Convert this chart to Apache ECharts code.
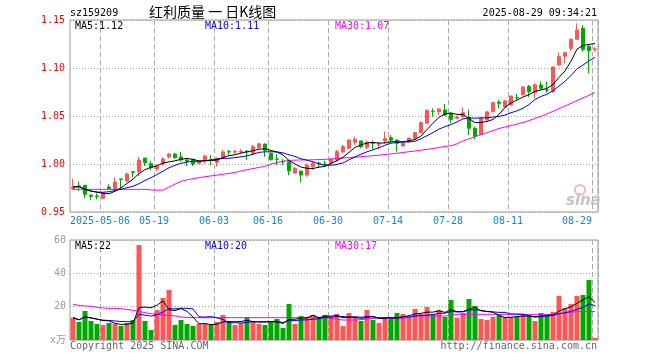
<!DOCTYPE html>
<html><head><meta charset="utf-8">
<script src="https://cdn.jsdelivr.net/npm/echarts@6/dist/echarts.min.js"></script>
<style>html,body{margin:0;padding:0;background:#fff}#c{width:660px;height:360px}</style>
</head><body><div id="c"></div>
<script>
const dates = [
'2025-04-24','2025-04-25','2025-04-28','2025-04-29','2025-04-30',
'2025-05-06','2025-05-07','2025-05-08','2025-05-09','2025-05-12','2025-05-13','2025-05-14','2025-05-15','2025-05-16',
'2025-05-19','2025-05-20','2025-05-21','2025-05-22','2025-05-23','2025-05-26','2025-05-27','2025-05-28','2025-05-29','2025-05-30',
'2025-06-03','2025-06-04','2025-06-05','2025-06-06','2025-06-09','2025-06-10','2025-06-11','2025-06-12','2025-06-13',
'2025-06-16','2025-06-17','2025-06-18','2025-06-19','2025-06-20','2025-06-23','2025-06-24','2025-06-25','2025-06-26','2025-06-27',
'2025-06-30','2025-07-01','2025-07-02','2025-07-03','2025-07-04','2025-07-07','2025-07-08','2025-07-09','2025-07-10','2025-07-11',
'2025-07-14','2025-07-15','2025-07-16','2025-07-17','2025-07-18','2025-07-21','2025-07-22','2025-07-23','2025-07-24','2025-07-25',
'2025-07-28','2025-07-29','2025-07-30','2025-07-31','2025-08-01','2025-08-04','2025-08-05','2025-08-06','2025-08-07','2025-08-08',
'2025-08-11','2025-08-12','2025-08-13','2025-08-14','2025-08-15','2025-08-18','2025-08-19','2025-08-20','2025-08-21','2025-08-22',
'2025-08-25','2025-08-26','2025-08-27','2025-08-28','2025-08-29'];

const opens = [
0.9743,0.9771,0.9778,0.9677,0.9667,0.9642,0.9760,0.9740,0.9844,0.9823,
0.9920,0.9920,1.0062,1.0003,0.9948,1.0000,1.0076,1.0104,1.0073,1.0042,
1.0049,1.0007,1.0031,1.0045,1.0017,1.0062,1.0128,1.0125,1.0125,1.0132,
1.0111,1.0174,1.0208,1.0111,1.0052,1.0028,1.0024,0.9906,0.9927,0.9885,
0.9972,1.0010,1.0000,1.0007,1.0042,1.0128,1.0163,1.0226,1.0240,1.0174,
1.0219,1.0205,1.0240,1.0274,1.0250,1.0188,1.0233,1.0267,1.0326,1.0424,
1.0548,1.0545,1.0563,1.0528,1.0476,1.0493,1.0486,1.0372,1.0309,1.0460,
1.0545,1.0645,1.0593,1.0615,1.0694,1.0722,1.0806,1.0745,1.0823,1.0772,
1.0753,1.1031,1.1122,1.1205,1.1300,1.1413,1.1225,1.1194];

const closes = [
0.9760,0.9767,0.9684,0.9663,0.9660,0.9701,0.9743,0.9812,0.9840,0.9896,
0.9913,1.0042,1.0014,0.9962,0.9979,1.0052,1.0104,1.0066,1.0042,1.0028,
1.0000,1.0024,1.0083,1.0042,1.0062,1.0125,1.0125,1.0128,1.0131,1.0125,
1.0180,1.0210,1.0142,1.0046,1.0049,1.0021,0.9928,0.9955,0.9885,0.9988,
1.0007,1.0000,0.9993,1.0049,1.0128,1.0181,1.0250,1.0257,1.0181,1.0226,
1.0212,1.0212,1.0264,1.0250,1.0215,1.0215,1.0267,1.0326,1.0431,1.0556,
1.0545,1.0573,1.0510,1.0465,1.0490,1.0535,1.0372,1.0290,1.0476,1.0543,
1.0639,1.0632,1.0658,1.0708,1.0691,1.0802,1.0753,1.0825,1.0788,1.0768,
1.1010,1.1118,1.1160,1.1300,1.1396,1.1194,1.1181,1.1198];

const lows = [
0.9729,0.9722,0.9642,0.9622,0.9632,0.9632,0.9729,0.9736,0.9747,0.9813,
0.9861,0.9875,0.9979,0.9938,0.9927,0.9979,1.0056,1.0056,1.0024,0.9979,
0.9979,1.0000,1.0007,0.9990,0.9972,1.0052,1.0094,1.0104,1.0111,1.0042,
1.0090,1.0146,1.0076,1.0035,0.9990,0.9990,0.9885,0.9896,0.9806,0.9868,
0.9938,0.9958,0.9972,0.9990,1.0024,1.0111,1.0156,1.0198,1.0163,1.0156,
1.0156,1.0156,1.0215,1.0215,1.0128,1.0181,1.0222,1.0257,1.0319,1.0417,
1.0493,1.0510,1.0500,1.0424,1.0470,1.0476,1.0302,1.0257,1.0302,1.0448,
1.0538,1.0580,1.0587,1.0610,1.0667,1.0715,1.0700,1.0688,1.0771,1.0743,
1.0743,1.1021,1.1049,1.1180,1.1292,1.1170,1.0944,1.1170];

const highs = [
0.9844,0.9816,0.9778,0.9677,0.9694,0.9701,0.9788,0.9861,0.9844,0.9910,
0.9927,1.0073,1.0062,1.0031,0.9997,1.0073,1.0115,1.0115,1.0125,1.0063,
1.0049,1.0038,1.0094,1.0094,1.0066,1.0146,1.0146,1.0146,1.0156,1.0146,
1.0198,1.0222,1.0212,1.0118,1.0104,1.0056,1.0042,0.9972,0.9927,1.0007,
1.0024,1.0024,1.0035,1.0059,1.0146,1.0198,1.0255,1.0285,1.0240,1.0243,
1.0243,1.0226,1.0337,1.0302,1.0250,1.0222,1.0278,1.0337,1.0441,1.0569,
1.0580,1.0580,1.0625,1.0538,1.0503,1.0590,1.0569,1.0389,1.0486,1.0552,
1.0645,1.0667,1.0665,1.0712,1.0729,1.0810,1.0823,1.0840,1.0858,1.0858,
1.1014,1.1160,1.1170,1.1305,1.1465,1.1448,1.1240,1.1222];

const volumes = [
13.4,10.8,17.4,11.4,9.6,9.0,10.2,9.6,8.4,10.2,
12.0,57.0,11.4,6.0,18.0,25.2,30.0,9.0,12.0,9.6,
8.4,9.6,9.6,9.0,10.8,15.0,10.8,9.0,10.2,13.8,
11.4,9.6,9.0,11.4,12.6,7.2,21.6,9.6,14.4,13.8,
15.0,13.8,15.0,14.0,15.6,8.4,16.2,13.4,11.4,18.0,
12.0,10.2,13.8,13.4,16.2,15.6,14.0,18.6,15.6,19.8,
15.6,18.0,13.8,24.0,13.4,16.2,24.6,20.4,12.6,12.0,
13.8,15.0,13.8,13.8,13.8,15.6,15.0,11.4,16.2,15.6,
16.8,26.4,19.0,21.6,26.4,27.0,36.0,1.2];

const ma30Price = [
0.9736,0.9736,0.9736,0.9736,0.9736,0.9736,0.9736,0.9736,0.9736,0.9736,
0.9736,0.9736,0.9736,0.9730,0.9727,0.9728,0.9760,0.9790,0.9820,0.9835,
0.9847,0.9858,0.9868,0.9876,0.9884,0.9893,0.9902,0.9912,0.9928,0.9940,
0.9952,0.9965,0.9976,1.0000,1.0015,1.0028,1.0038,1.0040,1.0042,1.0042,
1.0044,1.0046,1.0049,1.0052,1.0057,1.0062,1.0066,1.0071,1.0076,1.0081,
1.0086,1.0092,1.0098,1.0105,1.0112,1.0120,1.0128,1.0135,1.0144,1.0152,
1.0162,1.0172,1.0182,1.0190,1.0210,1.0240,1.0262,1.0285,1.0305,1.0325,
1.0348,1.0370,1.0385,1.0400,1.0416,1.0432,1.0452,1.0475,1.0496,1.0522,
1.0548,1.0576,1.0604,1.0632,1.0660,1.0688,1.0716,1.0745];

const ma30Vol = [
21.4,20.8,20.4,20.2,19.6,19.2,19.0,19.0,18.8,18.4,
17.8,17.2,16.4,15.8,15.4,15.0,14.8,14.4,13.8,13.6,
13.4,13.4,13.4,13.4,13.4,13.4,13.4,13.4,13.4,13.4,
13.4,13.4,13.4,13.4,13.4,13.4,13.4,13.4,13.4,13.4,
13.4,13.4,13.4,13.0,12.4,12.0,12.0,12.0,12.2,12.6,
13.0,13.0,13.0,13.0,13.0,13.0,13.6,14.4,14.4,14.4,
14.4,14.4,14.4,14.8,15.4,15.4,15.4,15.4,15.4,15.4,
15.4,15.4,15.4,15.4,15.4,15.2,15.2,15.2,15.2,15.2,
15.2,15.6,16.2,16.6,17.0,17.0,17.2,17.0];

const tickDates = ['2025-05-06','2025-05-19','2025-06-03','2025-06-16','2025-06-30','2025-07-14','2025-07-28','2025-08-11','2025-08-29'];
const tickLabels = ['2025-05-06','05-19','06-03','06-16','06-30','07-14','07-28','08-11','08-29'];
const priceLegend = ['MA5:1.12','MA10:1.11','MA30:1.07'];
const volLegend = ['MA5:22','MA10:20','MA30:17'];
const titleText = '红利质量 一 日K线图';
const codeText = 'sz159209';
const timeText = '2025-08-29 09:34:21';

function movingAvg(arr, n, dp) {
  return arr.map((_, i) => {
    const s = Math.max(0, i - n + 1);
    let t = 0;
    for (let k = s; k <= i; k++) t += arr[k];
    return +(t / (i - s + 1)).toFixed(dp);
  });
}

const UP = '#ff5555', DOWN = '#00a800';
const MONO = '"DejaVu Sans Mono", "Liberation Mono", "Noto Sans CJK SC", monospace';
const tickIdx = tickDates.map(d => dates.indexOf(d));
const tickSet = new Set(tickIdx);
const lastTick = tickIdx[tickIdx.length - 1];
const candles = dates.map((d, i) => [opens[i], closes[i], lows[i], highs[i]]);
const ma5 = movingAvg(closes, 5, 4), ma10 = movingAvg(closes, 10, 4);
const vma5 = movingAvg(volumes, 5, 2), vma10 = movingAvg(volumes, 10, 2);

const splitX = {show: true, interval: (i) => tickSet.has(i), lineStyle: {color: '#aaa', type: [5, 3], width: 1}};
const splitY = {show: true, lineStyle: {color: '#aaa', type: [1, 2], width: 1}};

function lineS(data, color, xi) {
  return {type: 'line', xAxisIndex: xi, yAxisIndex: xi, data: data, symbol: 'none', silent: true,
    lineStyle: {color: color, width: 1}, itemStyle: {color: color}, z: 5};
}
function txt(text, x, y, color, opts) {
  return Object.assign({type: 'text', z: 100, silent: true, style: Object.assign({text: text, x: x, y: y, fill: color,
    font: '10px ' + MONO, textVerticalAlign: 'middle', verticalAlign: 'middle'}, opts || {})});
}

const chart = echarts.init(document.getElementById('c'), null, {renderer: 'canvas'});
chart.setOption({
  animation: false,
  backgroundColor: '#fff',
  grid: [
    {left: 70, top: 20, width: 528, height: 192, show: true, borderColor: '#999', borderWidth: 1, outerBoundsMode: 'none', containLabel: false},
    {left: 70, top: 240, width: 528, height: 100, show: true, borderColor: '#999', borderWidth: 1, outerBoundsMode: 'none', containLabel: false}
  ],
  xAxis: [
    {type: 'category', gridIndex: 0, data: dates, boundaryGap: true,
      axisLine: {show: false}, axisTick: {show: false},
      axisLabel: {interval: (i) => tickSet.has(i), margin: 4, color: '#1a7fd4', fontFamily: MONO, fontSize: 10,
        formatter: (v, i) => {
          const k = tickDates.indexOf(v);
          if (k < 0) return '';
          return (dates.indexOf(v) === lastTick ? '{e|' : '{n|') + tickLabels[k] + '}';
        },
        rich: {
          n: {padding: [0, 6, 0, 0], color: '#1a7fd4', fontFamily: MONO, fontSize: 10},
          e: {padding: [0, 36, 0, 0], color: '#1a7fd4', fontFamily: MONO, fontSize: 10}
        }},
      splitLine: splitX},
    {type: 'category', gridIndex: 1, data: dates, boundaryGap: true,
      axisLine: {show: false}, axisTick: {show: false}, axisLabel: {show: false},
      splitLine: splitX}
  ],
  yAxis: [
    {type: 'value', gridIndex: 0, min: 0.95, max: 1.15, interval: 0.05, scale: true,
      axisLine: {show: false}, axisTick: {show: false},
      axisLabel: {color: '#ff0000', fontFamily: MONO, fontSize: 10, margin: 5, formatter: v => v.toFixed(2)},
      splitLine: splitY},
    {type: 'value', gridIndex: 1, min: 0, max: 60, interval: 20,
      axisLine: {show: false}, axisTick: {show: false},
      axisLabel: {color: '#999', fontFamily: MONO, fontSize: 10, margin: 4, formatter: v => v === 0 ? 'x万' : String(v)},
      splitLine: splitY}
  ],
  series: [
    {type: 'candlestick', xAxisIndex: 0, yAxisIndex: 0, data: candles, barWidth: 4, silent: true,
      itemStyle: {color: UP, color0: DOWN, borderColor: UP, borderColor0: DOWN, borderWidth: 1}},
    lineS(ma30Price, '#ff00ff', 0),
    lineS(ma10, '#0000ff', 0),
    lineS(ma5, '#000000', 0),
    {type: 'bar', xAxisIndex: 1, yAxisIndex: 1, data: volumes, barWidth: 5, silent: true,
      itemStyle: {color: (p) => closes[p.dataIndex] >= opens[p.dataIndex] ? UP : DOWN}},
    lineS(ma30Vol, '#ff00ff', 1),
    lineS(vma10, '#0000ff', 1),
    lineS(vma5, '#000000', 1)
  ],
  graphic: [
    txt(codeText, 70, 13, '#000'),
    txt(titleText, 149, 12, '#000', {font: '14px "Noto Sans CJK SC", sans-serif'}),
    txt(timeText, 597, 13, '#000', {textAlign: 'right', align: 'right'}),
    txt(priceLegend[0], 75, 26, '#000'),
    txt(priceLegend[1], 205, 26, '#0000ff'),
    txt(priceLegend[2], 335, 26, '#ff00ff'),
    txt(volLegend[0], 75, 246, '#000'),
    txt(volLegend[1], 205, 246, '#0000ff'),
    txt(volLegend[2], 335, 246, '#ff00ff'),
    txt('Copyright 2025 SINA.COM', 70, 346, '#666'),
    txt('http://finance.sina.com.cn', 597, 346, '#666', {textAlign: 'right', align: 'right'}),
    {type: 'circle', z: 1, silent: true, shape: {cx: 580, cy: 190, r: 5}, style: {fill: 'none', stroke: '#f2b8b8', lineWidth: 2}},
    txt('sina', 566, 201, '#c4c4c4', {font: 'italic bold 15px "DejaVu Sans", sans-serif'})
  ]
});
</script>
</body></html>
